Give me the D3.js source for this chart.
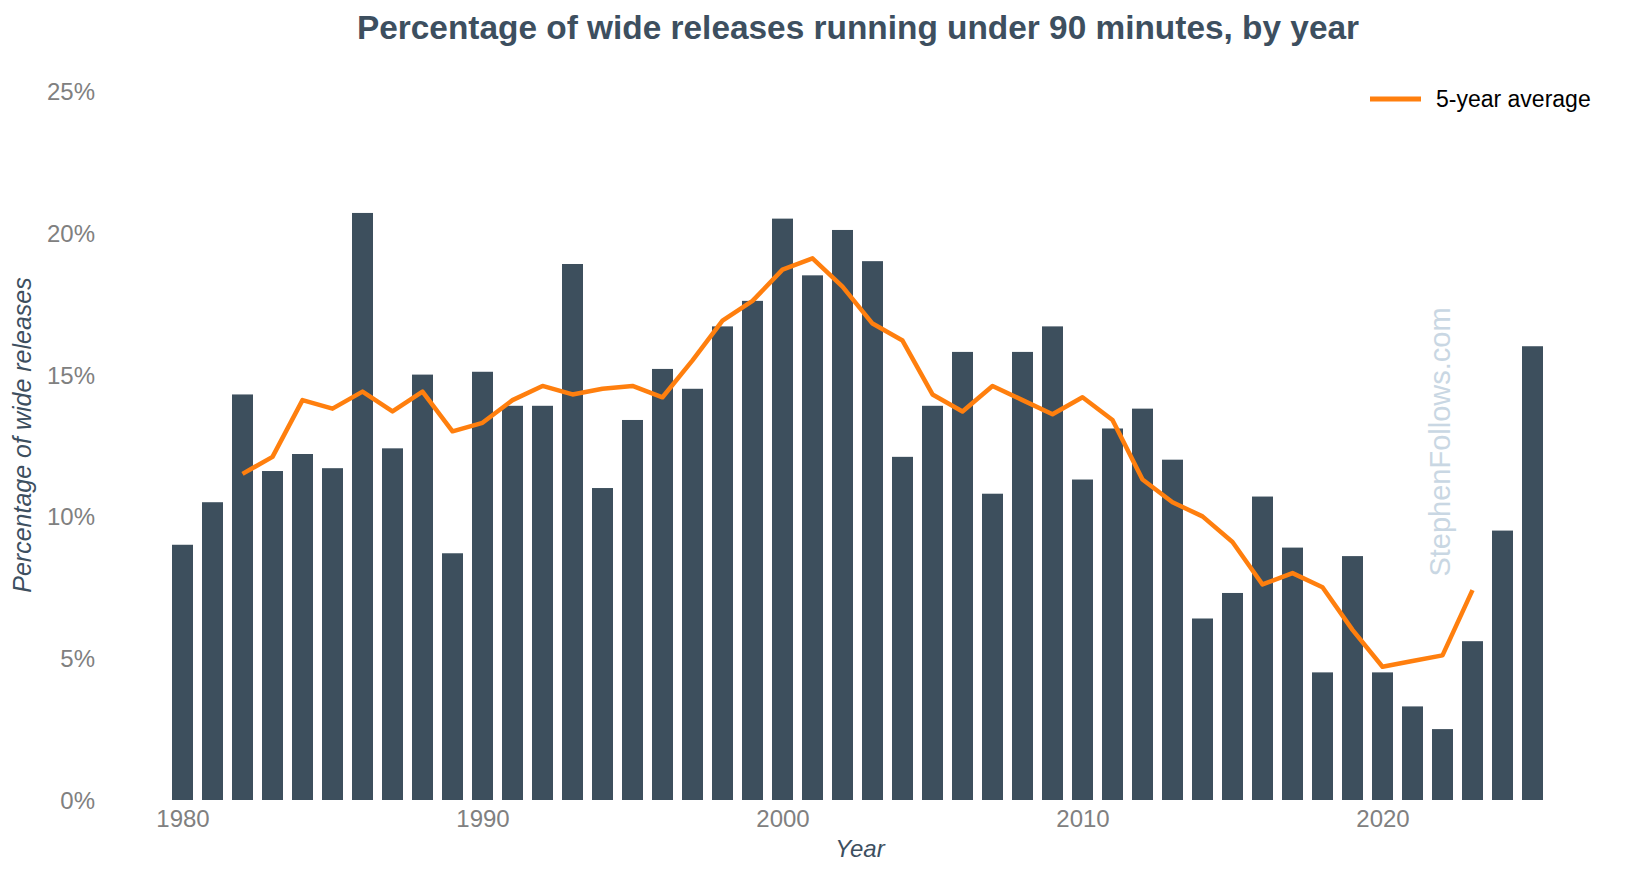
<!DOCTYPE html>
<html>
<head>
<meta charset="utf-8">
<script src="https://cdn.jsdelivr.net/npm/d3@7"></script>
<style>
  html, body { margin: 0; padding: 0; background: #ffffff; }
  svg { display: block; font-family: "Liberation Sans", Arial, sans-serif; }
</style>
</head>
<body>
<svg id="chart" width="1626" height="877"></svg>
<script>
const years = [1980,1981,1982,1983,1984,1985,1986,1987,1988,1989,1990,1991,1992,1993,1994,1995,1996,1997,1998,1999,2000,2001,2002,2003,2004,2005,2006,2007,2008,2009,2010,2011,2012,2013,2014,2015,2016,2017,2018,2019,2020,2021,2022,2023,2024,2025];
const pctUnder90 = [9.0,10.5,14.3,11.6,12.2,11.7,20.7,12.4,15.0,8.7,15.1,13.9,13.9,18.9,11.0,13.4,15.2,14.5,16.7,17.6,20.5,18.5,20.1,19.0,12.1,13.9,15.8,10.8,15.8,16.7,11.3,13.1,13.8,12.0,6.4,7.3,10.7,8.9,4.5,8.6,4.5,3.3,2.5,5.6,9.5,16.0];
const avgYears = [1982,1983,1984,1985,1986,1987,1988,1989,1990,1991,1992,1993,1994,1995,1996,1997,1998,1999,2000,2001,2002,2003,2004,2005,2006,2007,2008,2009,2010,2011,2012,2013,2014,2015,2016,2017,2018,2019,2020,2021,2022,2023];
const avg5 = [11.5,12.1,14.1,13.8,14.4,13.7,14.4,13.0,13.3,14.1,14.6,14.3,14.5,14.6,14.2,15.5,16.9,17.6,18.7,19.1,18.1,16.8,16.2,14.3,13.7,14.6,14.1,13.6,14.2,13.4,11.3,10.5,10.0,9.1,7.6,8.0,7.5,6.0,4.7,4.9,5.1,7.4];
const xTicks = [1980,1990,2000,2010,2020];
const yTicks = [0,5,10,15,20,25];

const svg = d3.select("#chart");
const x = d3.scaleLinear().domain([1979.5, 2025.5]).range([167.5, 1547.5]);
const y = d3.scaleLinear().domain([0, 25]).range([800, 91]);
const barW = 21;

const barColor = "#3d4f5d";
const lineColor = "#ff7f0e";

// Bars
svg.append("g").selectAll("rect").data(years).join("rect")
  .attr("x", (d) => x(d) - barW / 2)
  .attr("y", (d, i) => y(pctUnder90[i]))
  .attr("width", barW)
  .attr("height", (d, i) => y(0) - y(pctUnder90[i]))
  .attr("fill", barColor);

// Watermark
svg.append("text")
  .attr("transform", "translate(1450,442) rotate(-90)")
  .attr("text-anchor", "middle")
  .attr("font-size", 29)
  .attr("fill", "#c9d7e3")
  .text("StephenFollows.com");

// Line
const line = d3.line().x((d) => x(d[0])).y((d) => y(d[1]));
svg.append("path")
  .datum(avgYears.map((yr, i) => [yr, avg5[i]]))
  .attr("d", line)
  .attr("fill", "none")
  .attr("stroke", lineColor)
  .attr("stroke-width", 4.5)
  .attr("stroke-linejoin", "round");

// X axis
const xAxis = d3.axisBottom(x).tickValues(xTicks).tickFormat(d3.format("d")).tickSize(0).tickPadding(0);
const gx = svg.append("g").call(xAxis);
gx.select(".domain").remove();
gx.selectAll("text")
  .attr("y", 827).attr("dy", null)
  .attr("font-size", 24)
  .attr("font-family", "Liberation Sans, Arial, sans-serif")
  .attr("fill", "#808080");

// Y axis
const yAxis = d3.axisLeft(y).tickValues(yTicks).tickFormat((d) => d + "%").tickSize(0).tickPadding(0);
const gy = svg.append("g").attr("transform", "translate(95,0)").call(yAxis);
gy.select(".domain").remove();
gy.selectAll("text")
  .attr("x", 0).attr("dy", "0.35em")
  .attr("font-size", 24)
  .attr("font-family", "Liberation Sans, Arial, sans-serif")
  .attr("fill", "#808080");

// Title
svg.append("text")
  .attr("x", 858).attr("y", 39)
  .attr("text-anchor", "middle")
  .attr("font-size", 33.4)
  .attr("font-weight", "bold")
  .attr("fill", "#3d4f5f")
  .text("Percentage of wide releases running under 90 minutes, by year");

// Axis titles
svg.append("text")
  .attr("x", 860).attr("y", 857)
  .attr("text-anchor", "middle")
  .attr("font-size", 24)
  .attr("font-style", "italic")
  .attr("fill", "#3d4f5f")
  .text("Year");

svg.append("text")
  .attr("transform", "translate(31,435) rotate(-90)")
  .attr("text-anchor", "middle")
  .attr("font-size", 25)
  .attr("font-style", "italic")
  .attr("fill", "#3d4f5f")
  .text("Percentage of wide releases");

// Legend
const lg = svg.append("g");
lg.append("line")
  .attr("x1", 1370).attr("x2", 1421).attr("y1", 99).attr("y2", 99)
  .attr("stroke", lineColor).attr("stroke-width", 5);
lg.append("text")
  .attr("x", 1436).attr("y", 99).attr("dy", "0.35em")
  .attr("font-size", 23)
  .attr("fill", "#000000")
  .text("5-year average");
</script>
</body>
</html>
